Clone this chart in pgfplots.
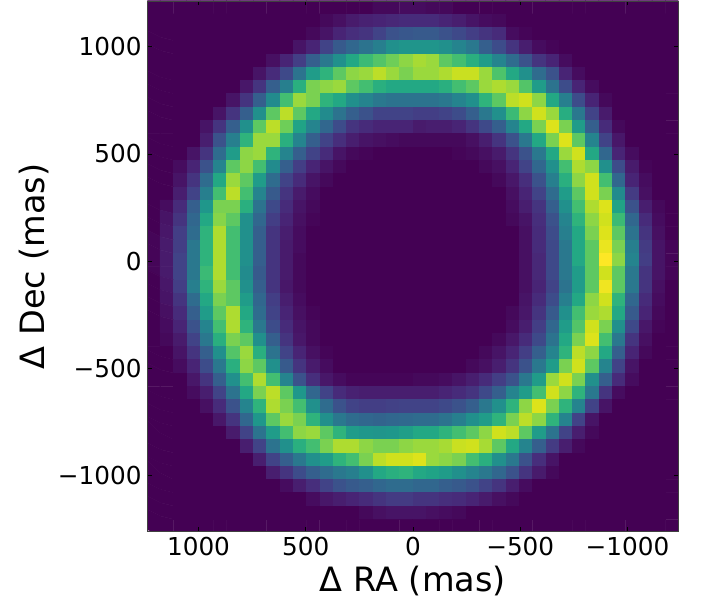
\documentclass[border=0pt]{standalone}
\usepackage{fontspec}
\setmainfont{DejaVu Sans}
\usepackage{pgfplots}
\pgfplotsset{compat=1.18}
\begin{document}
\begin{tikzpicture}
\begin{axis}[
  scale only axis, width=531pt, height=530.7pt,
  xmin=-1237, xmax=1239, ymin=-1261, ymax=1213,
  x dir=reverse,
  axis on top,
  colormap/viridis,
  point meta min=0, point meta max=10,
  xtick={1000,500,0,-500,-1000},
  xticklabels={1000,500,0,−500,−1000},
  ytick={-1000,-500,0,500,1000},
  yticklabels={−1000,−500,0,500,1000},
  tick align=inside,
  major tick length=4.5pt,
  tick style={black, line width=0.8pt},
  axis line style={black!75, line width=0.9pt},
  tick label style={font=\fontsize{24.7}{30}\selectfont, inner sep=0pt},
  xticklabel style={anchor=north, yshift=-5.3pt},
  yticklabel style={anchor=east, xshift=-5.6pt},
  label style={font=\fontsize{33.5}{40}\selectfont, inner sep=0pt},
  xlabel={Δ RA (mas)},
  ylabel={Δ Dec (mas)},
  xlabel style={at={(axis description cs:0.5,-0.1136)}, anchor=base},
  ylabel style={at={(axis description cs:-0.1945,0.5)}, anchor=base},
]
\addplot[matrix plot*, mesh/cols=40, point meta=explicit] table[header=false, row sep=\\, meta index=0, x expr={1241-(mod(\coordindex,40)+0.5)*62.0}, y expr={1215-(floor(\coordindex/40)+0.5)*62.0}] {
0\\0\\0\\0\\0\\0\\0\\0\\0\\0\\ 0\\0\\0\\0\\0\\0\\0\\0.2\\0.2\\0.3\\ 0.3\\0.2\\0.2\\0\\0\\0\\0\\0\\0\\0\\ 0\\0\\0\\0\\0\\0\\0\\0\\0\\0\\
0\\0\\0\\0\\0\\0\\0\\0\\0\\0\\ 0\\0\\0\\0.2\\0.4\\0.7\\0.9\\1.0\\1.1\\1.2\\ 1.2\\1.2\\1.0\\0.8\\0.5\\0.3\\0.2\\0\\0\\0\\ 0\\0\\0\\0\\0\\0\\0\\0\\0\\0\\
0\\0\\0\\0\\0\\0\\0\\0\\0\\0\\ 0\\0\\0.2\\0.5\\1.0\\1.3\\1.5\\2.0\\2.5\\2.7\\ 2.8\\2.8\\2.5\\2.2\\1.8\\1.5\\1.2\\0.3\\0.1\\0\\ 0\\0\\0\\0\\0\\0\\0\\0\\0\\0\\
0\\0\\0\\0\\0\\0\\0\\0\\0\\0\\ 0\\0.5\\1.0\\2.0\\2.8\\3.3\\3.8\\4.3\\5.0\\5.2\\ 5.2\\5.2\\5.0\\4.5\\4.0\\3.0\\2.3\\1.5\\0.8\\0.3\\ 0.1\\0\\0\\0\\0\\0\\0\\0\\0\\0\\
0\\0\\0\\0\\0\\0\\0\\0\\0\\0.4\\ 1.0\\1.8\\3.0\\4.0\\5.0\\6.0\\6.8\\7.3\\7.8\\8.3\\ 8.7\\8.5\\7.5\\7.0\\6.3\\5.5\\4.5\\3.5\\2.5\\1.5\\ 1.0\\0.3\\0\\0\\0\\0\\0\\0\\0\\0\\
0\\0\\0\\0\\0\\0\\0\\0\\0.5\\1.2\\ 2.2\\3.8\\5.5\\6.5\\7.5\\8.3\\8.5\\9.0\\8.5\\8.0\\ 8.5\\8.5\\8.8\\9.2\\9.2\\8.5\\7.2\\6.0\\5.0\\3.5\\ 2.5\\1.0\\0.3\\0\\0\\0\\0\\0\\0\\0\\
0\\0\\0\\0\\0\\0\\0\\0.6\\1.5\\3.0\\ 4.3\\6.3\\8.0\\8.3\\8.5\\7.5\\7.0\\6.3\\6.0\\6.0\\ 6.0\\6.0\\6.3\\7.0\\7.5\\8.5\\8.8\\8.5\\7.3\\5.5\\ 3.8\\2.3\\1.0\\0.3\\0\\0\\0\\0\\0\\0\\
0\\0\\0\\0\\0\\0\\0.5\\1.5\\3.0\\4.8\\ 7.0\\8.5\\8.0\\6.5\\6.0\\5.0\\4.5\\4.0\\3.8\\3.8\\ 3.8\\3.8\\4.0\\4.5\\5.0\\6.5\\7.5\\9.0\\9.3\\8.3\\ 6.0\\4.3\\2.3\\1.0\\0.2\\0\\0\\0\\0\\0\\
0\\0\\0\\0\\0\\0.5\\1.5\\3.0\\5.0\\7.5\\ 9.0\\7.5\\6.0\\4.8\\3.8\\3.0\\2.5\\2.0\\2.0\\2.0\\ 1.8\\1.8\\2.0\\2.3\\3.0\\4.0\\5.0\\6.8\\8.3\\9.3\\ 8.5\\6.2\\4.0\\2.0\\0.7\\0\\0\\0\\0\\0\\
0\\0\\0\\0\\0.5\\1.5\\3.0\\5.0\\7.5\\9.0\\ 7.8\\5.8\\4.5\\3.3\\2.3\\1.5\\1.2\\1.0\\1.0\\1.0\\ 0.7\\0.8\\0.8\\1.0\\1.5\\2.2\\3.0\\4.5\\6.0\\8.0\\ 9.5\\8.0\\5.5\\3.0\\1.2\\0.2\\0\\0\\0\\0\\
0\\0\\0\\0\\0.8\\2.5\\4.3\\6.5\\8.5\\8.5\\ 6.3\\4.5\\3.0\\2.0\\1.3\\0.8\\0.5\\0.4\\0.3\\0.2\\ 0.2\\0.2\\0.2\\0.2\\0.4\\0.8\\1.5\\2.5\\4.0\\6.0\\ 8.0\\9.5\\7.5\\4.5\\2.0\\0.6\\0\\0\\0\\0\\
0\\0\\0\\0.5\\1.5\\3.5\\5.5\\8.3\\8.5\\6.5\\ 4.5\\3.0\\2.0\\1.2\\0.5\\0.2\\0.1\\0\\0\\0\\ 0\\0\\0\\0.1\\0.2\\0.4\\0.7\\1.5\\2.5\\4.0\\ 6.0\\8.5\\9.3\\6.0\\3.3\\1.0\\0.3\\0\\0\\0\\
0\\0\\0.3\\1.0\\2.5\\4.5\\7.5\\8.3\\7.0\\4.8\\ 3.0\\1.8\\1.0\\0.5\\0.2\\0\\0\\0\\0\\0\\ 0\\0\\0\\0\\0\\0.2\\0.4\\1.0\\2.0\\3.3\\ 5.0\\7.0\\8.8\\8.3\\5.0\\2.3\\0.7\\0.1\\0\\0\\
0\\0\\0.5\\1.5\\3.5\\6.0\\8.5\\7.5\\5.5\\3.5\\ 2.0\\1.2\\0.5\\0.2\\0\\0\\0\\0\\0\\0\\ 0\\0\\0\\0\\0\\0\\0.2\\0.6\\1.3\\2.5\\ 4.3\\6.3\\8.3\\9.3\\7.0\\3.3\\1.0\\0.3\\0\\0\\
0\\0\\0.8\\2.0\\4.3\\7.0\\9.0\\7.0\\4.5\\2.8\\ 1.5\\0.7\\0.3\\0\\0\\0\\0\\0\\0\\0\\ 0\\0\\0\\0\\0\\0\\0\\0.4\\1.0\\2.0\\ 3.5\\5.5\\7.5\\9.3\\8.0\\4.8\\1.7\\0.4\\0\\0\\
0\\0.3\\1.2\\3.0\\5.3\\8.0\\8.0\\6.3\\3.8\\2.2\\ 1.2\\0.5\\0.2\\0\\0\\0\\0\\0\\0\\0\\ 0\\0\\0\\0\\0\\0\\0\\0.3\\0.8\\1.5\\ 3.0\\5.0\\7.0\\8.8\\9.5\\5.8\\2.5\\0.8\\0.2\\0\\
0\\0.5\\1.5\\3.3\\6.0\\8.2\\7.5\\5.0\\3.3\\1.8\\ 1.0\\0.4\\0.1\\0\\0\\0\\0\\0\\0\\0\\ 0\\0\\0\\0\\0\\0\\0\\0.2\\0.5\\1.3\\ 2.5\\4.5\\6.5\\8.3\\9.3\\6.8\\3.3\\1.2\\0.3\\0\\
0\\0.6\\1.8\\3.5\\6.5\\8.8\\7.0\\5.0\\3.0\\1.5\\ 0.8\\0.3\\0\\0\\0\\0\\0\\0\\0\\0\\ 0\\0\\0\\0\\0\\0\\0\\0\\0.4\\1.2\\ 2.3\\4.3\\6.0\\8.0\\9.5\\7.5\\3.8\\1.5\\0.4\\0\\
0.1\\0.7\\1.8\\4.0\\6.5\\8.8\\7.0\\5.0\\3.0\\1.5\\ 0.7\\0.3\\0\\0\\0\\0\\0\\0\\0\\0\\ 0\\0\\0\\0\\0\\0\\0\\0\\0.4\\1.2\\ 2.2\\4.0\\6.0\\7.5\\9.7\\8.0\\4.3\\1.7\\0.5\\0.1\\
0.1\\0.7\\2.0\\4.0\\6.5\\8.8\\7.0\\5.0\\3.0\\1.5\\ 0.7\\0.2\\0\\0\\0\\0\\0\\0\\0\\0\\ 0\\0\\0\\0\\0\\0\\0\\0\\0.4\\1.1\\ 2.2\\4.0\\6.0\\7.5\\10\\8.3\\4.5\\1.8\\0.5\\0.1\\
0.1\\0.7\\2.0\\4.0\\6.8\\8.8\\7.0\\4.8\\2.8\\1.5\\ 0.7\\0.2\\0\\0\\0\\0\\0\\0\\0\\0\\ 0\\0\\0\\0\\0\\0\\0\\0\\0.4\\1.1\\ 2.2\\4.0\\5.5\\7.5\\9.3\\7.5\\4.0\\1.5\\0.5\\0.1\\
0\\0.6\\1.8\\4.3\\6.5\\8.5\\7.5\\5.0\\3.0\\1.5\\ 0.6\\0.2\\0\\0\\0\\0\\0\\0\\0\\0\\ 0\\0\\0\\0\\0\\0\\0\\0\\0.4\\1.0\\ 2.0\\3.8\\5.5\\7.5\\9.8\\7.5\\4.0\\1.5\\0.4\\0\\
0\\0.5\\1.5\\3.5\\6.0\\8.0\\7.5\\5.5\\3.3\\1.8\\ 0.8\\0.3\\0\\0\\0\\0\\0\\0\\0\\0\\ 0\\0\\0\\0\\0\\0\\0\\0\\0.5\\1.2\\ 2.3\\4.3\\6.0\\8.3\\9.3\\6.5\\3.3\\1.2\\0.3\\0\\
0\\0.4\\1.2\\3.0\\5.5\\7.5\\8.8\\6.0\\3.5\\2.0\\ 1.0\\0.4\\0.1\\0\\0\\0\\0\\0\\0\\0\\ 0\\0\\0\\0\\0\\0\\0\\0.2\\0.6\\1.5\\ 2.8\\5.0\\7.0\\8.5\\8.8\\6.0\\2.8\\1.0\\0.2\\0\\
0\\0.3\\1.0\\2.5\\4.5\\7.0\\8.8\\6.5\\4.0\\2.3\\ 1.2\\0.5\\0.2\\0\\0\\0\\0\\0\\0\\0\\ 0\\0\\0\\0\\0\\0\\0\\0.3\\0.8\\1.8\\ 3.3\\5.5\\7.3\\9.3\\8.0\\5.0\\2.2\\0.6\\0.1\\0\\
0\\0.2\\0.7\\2.0\\4.0\\6.3\\8.0\\7.5\\5.0\\3.0\\ 1.5\\0.6\\0.2\\0\\0\\0\\0\\0\\0\\0\\ 0\\0\\0\\0\\0\\0\\0.2\\0.6\\1.2\\2.2\\ 3.8\\6.0\\8.0\\9.5\\7.0\\4.0\\1.5\\0.4\\0\\0\\
0\\0\\0.5\\1.5\\3.0\\5.0\\7.3\\8.5\\6.3\\3.8\\ 2.0\\1.0\\0.4\\0.1\\0\\0\\0\\0\\0\\0\\ 0\\0\\0\\0\\0\\0.2\\0.5\\1.0\\1.8\\3.0\\ 4.5\\6.5\\9.0\\8.3\\6.0\\3.0\\1.0\\0.2\\0\\0\\
0\\0\\0.3\\1.0\\2.3\\4.0\\6.3\\8.3\\7.5\\5.0\\ 2.8\\1.5\\0.7\\0.3\\0\\0\\0\\0\\0\\0\\ 0\\0\\0\\0\\0.2\\0.4\\0.8\\1.5\\2.5\\4.0\\ 5.5\\8.0\\9.3\\7.5\\4.5\\2.0\\0.5\\0\\0\\0\\
0\\0\\0\\0.6\\1.5\\3.0\\5.0\\7.0\\8.8\\7.0\\ 4.5\\2.5\\1.3\\0.6\\0.3\\0.1\\0.1\\0.1\\0.1\\0.1\\ 0.2\\0.2\\0.3\\0.5\\0.8\\1.2\\1.8\\2.5\\4.0\\5.5\\ 8.5\\9.3\\8.0\\5.0\\3.0\\1.2\\0.3\\0\\0\\0\\
0\\0\\0\\0.3\\0.8\\2.0\\3.8\\6.0\\8.0\\9.0\\ 7.5\\5.3\\3.3\\2.0\\1.2\\0.9\\0.8\\0.8\\0.8\\0.8\\ 0.8\\0.8\\1.0\\1.2\\1.5\\2.2\\3.0\\4.5\\5.5\\7.0\\ 9.3\\8.3\\6.5\\4.0\\1.5\\0.3\\0\\0\\0\\0\\
0\\0\\0\\0\\0.4\\1.2\\2.5\\4.5\\6.5\\8.8\\ 8.0\\7.0\\5.0\\3.5\\2.5\\2.0\\1.8\\1.8\\1.9\\2.0\\ 2.0\\2.0\\2.2\\2.5\\3.0\\4.0\\5.0\\6.5\\8.3\\9.5\\ 8.0\\6.5\\4.5\\2.0\\0.5\\0\\0\\0\\0\\0\\
0\\0\\0\\0\\0\\0.6\\1.5\\3.3\\5.3\\7.5\\ 8.5\\8.0\\6.5\\5.0\\4.0\\3.5\\3.3\\3.2\\3.3\\3.4\\ 3.5\\3.5\\3.8\\4.3\\5.0\\5.5\\6.5\\8.0\\9.0\\8.3\\ 6.5\\4.5\\2.0\\0.5\\0\\0\\0\\0\\0\\0\\
0\\0\\0\\0\\0\\0\\0.7\\2.0\\3.8\\5.5\\ 7.0\\8.3\\8.5\\7.5\\6.5\\5.5\\5.3\\5.2\\5.3\\5.6\\ 6.0\\6.0\\6.5\\7.0\\7.5\\8.3\\9.3\\9.0\\7.5\\5.5\\ 3.8\\2.0\\0.8\\0.2\\0\\0\\0\\0\\0\\0\\
0\\0\\0\\0\\0\\0\\0\\0.8\\2.0\\3.8\\ 5.0\\6.3\\7.0\\8.0\\8.8\\8.8\\8.3\\8.0\\8.0\\8.3\\ 8.5\\8.5\\8.7\\9.2\\9.3\\8.7\\7.5\\6.0\\4.5\\3.0\\ 1.7\\0.8\\0.2\\0\\0\\0\\0\\0\\0\\0\\
0\\0\\0\\0\\0\\0\\0\\0\\0.8\\2.0\\ 3.0\\4.0\\5.0\\5.5\\6.5\\7.0\\8.0\\9.0\\9.3\\9.3\\ 9.5\\8.5\\8.3\\8.0\\7.0\\6.3\\5.0\\4.0\\2.5\\1.3\\ 0.5\\0\\0\\0\\0\\0\\0\\0\\0\\0\\
0\\0\\0\\0\\0\\0\\0\\0\\0\\0.8\\ 1.5\\2.3\\3.0\\3.5\\4.0\\4.3\\5.0\\6.0\\6.3\\6.5\\ 6.0\\5.8\\5.5\\5.0\\4.5\\4.0\\3.3\\2.5\\1.5\\0.7\\ 0.2\\0\\0\\0\\0\\0\\0\\0\\0\\0\\
0\\0\\0\\0\\0\\0\\0\\0\\0\\0\\ 0.3\\0.8\\1.3\\2.0\\2.5\\2.8\\3.0\\3.3\\3.5\\3.5\\ 3.3\\3.3\\3.0\\2.8\\2.5\\2.0\\1.5\\0.8\\0.3\\0\\ 0\\0\\0\\0\\0\\0\\0\\0\\0\\0\\
0\\0\\0\\0\\0\\0\\0\\0\\0\\0\\ 0\\0\\0.3\\0.6\\0.8\\1.0\\1.2\\1.5\\1.7\\1.7\\ 1.5\\1.5\\1.3\\1.2\\1.0\\0.7\\0.4\\0.2\\0\\0\\ 0\\0\\0\\0\\0\\0\\0\\0\\0\\0\\
0\\0\\0\\0\\0\\0\\0\\0\\0\\0\\ 0\\0\\0\\0\\0\\0\\0.2\\0.4\\0.5\\0.5\\ 0.5\\0.4\\0.3\\0.2\\0\\0\\0\\0\\0\\0\\ 0\\0\\0\\0\\0\\0\\0\\0\\0\\0\\
0\\0\\0\\0\\0\\0\\0\\0\\0\\0\\ 0\\0\\0\\0\\0\\0\\0\\0\\0\\0\\ 0\\0\\0\\0\\0\\0\\0\\0\\0\\0\\ 0\\0\\0\\0\\0\\0\\0\\0\\0\\0\\
};
\end{axis}
\pgfresetboundingbox
\path[use as bounding box] (current axis.south west) ++(-147.3pt,-67.3pt) rectangle ++(706pt,599pt);
\end{tikzpicture}
\end{document}
